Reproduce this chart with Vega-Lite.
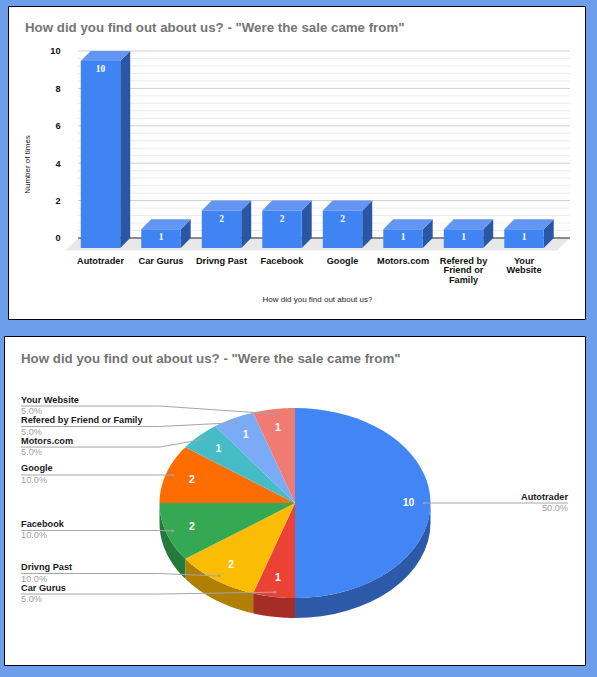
{
  "$schema": "https://vega.github.io/schema/vega-lite/v6.json",
  "background": "#6d9eeb",
  "padding": {"left": 3, "top": 5, "right": 12, "bottom": 12},
  "datasets": {
    "sources": [
      {"source": "Autotrader", "wrapped": "Autotrader", "times": 10},
      {"source": "Car Gurus", "wrapped": "Car Gurus", "times": 1},
      {"source": "Drivng Past", "wrapped": "Drivng Past", "times": 2},
      {"source": "Facebook", "wrapped": "Facebook", "times": 2},
      {"source": "Google", "wrapped": "Google", "times": 2},
      {"source": "Motors.com", "wrapped": "Motors.com", "times": 1},
      {"source": "Refered by Friend or Family", "wrapped": "Refered by\nFriend or\nFamily", "times": 1},
      {"source": "Your Website", "wrapped": "Your\nWebsite", "times": 1}
    ]
  },
  "config": {"font": "Liberation Sans"},
  "spacing": 15,
  "vconcat": [
    {
      "spacing": 0,
      "hconcat": [
        {"width": 3, "height": 313, "view": {"stroke": null}, "data": {"values": []}, "mark": "rule", "encoding": {}},
        {
          "width": 577,
          "height": 313,
          "view": {"fill": "#ffffff", "stroke": "#000000", "strokeWidth": 1},
          "title": {"text": "How did you find out about us? - \"Were the sale came from\"", "anchor": "start", "frame": "group", "offset": -28, "dx": 17, "font": "Liberation Sans", "fontSize": 13.3, "fontWeight": "bold", "color": "#757575"},
          "data": {"name": "sources"},
          "transform": [
            {"window": [{"op": "row_number", "as": "rank"}], "ignorePeers": true},
            {"calculate": "datum.rank - 1", "as": "slot"},
            {"calculate": "datum.slot - 0.326", "as": "left"},
            {"calculate": "datum.slot + 0.326", "as": "right"},
            {"calculate": "datum.times - 0.535", "as": "front_top"}
          ],
          "layer": [
            {
              "data": {"values": [{}]},
              "transform": [
                {"calculate": "[0, 1, 2, 3]", "as": "k"},
                {"flatten": ["k"]},
                {"calculate": "[-0.577, -0.372, 7.545, 7.76][datum.k]", "as": "fx"},
                {"calculate": "[-0.668, 0, 0, 0][datum.k]", "as": "fy"},
                {"calculate": "[-0.668, -0.668, -0.668, 0][datum.k]", "as": "fy2"}
              ],
              "mark": {"type": "area", "orient": "vertical", "color": "#e8e8e8"},
              "encoding": {
                "x": {"field": "fx", "type": "quantitative", "scale": {"domain": [-1.529, 8.008], "nice": false, "zero": false}, "axis": {"title": "How did you find out about us?", "labels": false, "ticks": false, "domain": false, "grid": false, "titleX": 309, "titleY": -24, "titleFontSize": 8, "titleFontWeight": "normal", "titleColor": "#222222"}},
                "y": {"field": "fy", "type": "quantitative", "scale": {"domain": [-4.332, 12.406], "nice": false, "zero": false}, "axis": {"values": [0, 2, 4, 6, 8, 10], "title": "Number of times", "domain": false, "ticks": false, "grid": false, "offset": -52, "labelPadding": 0, "labelFontSize": 9.2, "labelFontWeight": "bold", "labelColor": "#111111", "titleX": -29, "titleY": 158, "titleFontSize": 8, "titleFontWeight": "normal", "titleColor": "#222222"}},
                "y2": {"field": "fy2"}
              }
            },
            {
              "data": {"values": [{"tick": 0}, {"tick": 0.4}, {"tick": 0.8}, {"tick": 1.2}, {"tick": 1.6}, {"tick": 2}, {"tick": 2.4}, {"tick": 2.8}, {"tick": 3.2}, {"tick": 3.6}, {"tick": 4}, {"tick": 4.4}, {"tick": 4.8}, {"tick": 5.2}, {"tick": 5.6}, {"tick": 6}, {"tick": 6.4}, {"tick": 6.8}, {"tick": 7.2}, {"tick": 7.6}, {"tick": 8}, {"tick": 8.4}, {"tick": 8.8}, {"tick": 9.2}, {"tick": 9.6}, {"tick": 10}]},
              "mark": {"type": "rule", "strokeWidth": 1},
              "encoding": {
                "x": {"datum": -0.372, "type": "quantitative"},
                "x2": {"datum": 7.76},
                "y": {"field": "tick", "type": "quantitative"},
                "color": {"condition": [{"test": "datum.tick === 0", "value": "#222222"}, {"test": "datum.tick % 2 === 0", "value": "#cfcfcf"}], "value": "#ececec"}
              }
            },
            {
              "transform": [
                {"calculate": "[0, 1]", "as": "k"},
                {"flatten": ["k"]},
                {"calculate": "datum.right + datum.k * 0.165", "as": "sx"},
                {"calculate": "datum.front_top + datum.k * 0.535", "as": "sy"},
                {"calculate": "-0.535 + datum.k * 0.535", "as": "sy2"}
              ],
              "mark": {"type": "area", "orient": "vertical", "color": "#2a57a5"},
              "encoding": {
                "x": {"field": "sx", "type": "quantitative"},
                "y": {"field": "sy", "type": "quantitative"},
                "y2": {"field": "sy2"},
                "detail": {"field": "source"}
              }
            },
            {
              "transform": [
                {"calculate": "[0, 1, 2, 3]", "as": "k"},
                {"flatten": ["k"]},
                {"calculate": "[datum.left, datum.left + 0.165, datum.right, datum.right + 0.165][datum.k]", "as": "tx"},
                {"calculate": "[datum.front_top, datum.times, datum.times, datum.times][datum.k]", "as": "ty"},
                {"calculate": "[datum.front_top, datum.front_top, datum.front_top, datum.times][datum.k]", "as": "ty2"}
              ],
              "mark": {"type": "area", "orient": "vertical", "color": "#6296f2"},
              "encoding": {
                "x": {"field": "tx", "type": "quantitative"},
                "y": {"field": "ty", "type": "quantitative"},
                "y2": {"field": "ty2"},
                "detail": {"field": "source"}
              }
            },
            {
              "transform": [{"calculate": "-0.535", "as": "base"}],
              "mark": {"type": "rect", "color": "#4083f3"},
              "encoding": {
                "x": {"field": "left", "type": "quantitative"},
                "x2": {"field": "right"},
                "y": {"field": "front_top", "type": "quantitative"},
                "y2": {"field": "base"}
              }
            },
            {
              "transform": [{"calculate": "datum.front_top - 0.43", "as": "label_y"}],
              "mark": {"type": "text", "font": "Liberation Serif", "fontWeight": "bold", "fontSize": 9.5, "color": "#ffffff"},
              "encoding": {
                "x": {"field": "slot", "type": "quantitative"},
                "y": {"field": "label_y", "type": "quantitative"},
                "text": {"field": "times"}
              }
            },
            {
              "transform": [{"calculate": "-1", "as": "label_y"}],
              "mark": {"type": "text", "baseline": "top", "lineBreak": "\n", "lineHeight": 9.5, "fontWeight": "bold", "fontSize": 9.2, "color": "#111111"},
              "encoding": {
                "x": {"field": "slot", "type": "quantitative"},
                "y": {"field": "label_y", "type": "quantitative"},
                "text": {"field": "wrapped"}
              }
            }
          ]
        }
      ]
    },
    {
      "width": 581,
      "height": 329,
      "view": {"fill": "#ffffff", "stroke": "#000000", "strokeWidth": 1},
      "title": {"text": "How did you find out about us? - \"Were the sale came from\"", "anchor": "start", "frame": "group", "offset": -29, "dx": 17, "font": "Liberation Sans", "fontSize": 13.3, "fontWeight": "bold", "color": "#757575"},
      "data": {"name": "sources"},
      "transform": [
        {"window": [{"op": "sum", "field": "times", "as": "cum"}], "ignorePeers": true},
        {"joinaggregate": [{"op": "sum", "field": "times", "as": "total"}]},
        {"calculate": "(datum.cum - datum.times) / datum.total", "as": "start"},
        {"calculate": "datum.cum / datum.total", "as": "end"},
        {"calculate": "(datum.start + datum.end) / 2", "as": "mid"},
        {"calculate": "0.95 * sin(2 * PI * datum.mid)", "as": "dot_x"},
        {"calculate": "0.95 * cos(2 * PI * datum.mid)", "as": "dot_y"},
        {"calculate": "{'Your Website': 1.021, 'Refered by Friend or Family': 0.805, 'Motors.com': 0.589, 'Google': 0.295, 'Facebook': -0.289, 'Drivng Past': -0.742, 'Car Gurus': -0.958, 'Autotrader': 0}[datum.source]", "as": "line_y"},
        {"calculate": "datum.mid < 0.5 ? 2.015 : -2.022", "as": "line_x"},
        {"calculate": "format(datum.times / datum.total, '.1%')", "as": "share"}
      ],
      "layer": [
        {
          "transform": [
            {"filter": "datum.end > 0.25 && datum.start < 0.75"},
            {"calculate": "max(datum.start, 0.25)", "as": "w0"},
            {"calculate": "min(datum.end, 0.75)", "as": "w1"},
            {"calculate": "[0,1,2,3,4,5,6,7,8,9,10,11,12,13,14,15,16,17,18,19,20,21,22,23,24,25,26,27,28,29,30,31,32,33]", "as": "k"},
            {"flatten": ["k"]},
            {"calculate": "datum.w0 + (datum.w1 - datum.w0) * (datum.k <= 16 ? datum.k : 33 - datum.k) / 16", "as": "f"},
            {"calculate": "sin(2 * PI * datum.f)", "as": "px"},
            {"calculate": "cos(2 * PI * datum.f) - (datum.k > 16 ? 0.2105 : 0)", "as": "py"}
          ],
          "mark": {"type": "line", "strokeWidth": 0},
          "encoding": {
            "x": {"field": "px", "type": "quantitative", "scale": {"domain": [-2.1476, 2.1402], "nice": false, "zero": false}, "axis": null},
            "y": {"field": "py", "type": "quantitative", "scale": {"domain": [-1.705, 1.758], "nice": false, "zero": false}, "axis": null},
            "order": {"field": "k", "type": "quantitative"},
            "detail": {"field": "source"},
            "fill": {"field": "source", "type": "nominal", "legend": null, "scale": {"domain": ["Autotrader", "Car Gurus", "Drivng Past", "Facebook"], "range": ["#2c5aa8", "#a52d25", "#b07f03", "#24793d"]}}
          }
        },
        {
          "transform": [
            {"calculate": "[-1,0,1,2,3,4,5,6,7,8,9,10,11,12,13,14,15,16,17,18,19,20,21,22,23,24,25,26,27,28,29,30,31,32,33,34,35,36,37,38,39,40]", "as": "k"},
            {"flatten": ["k"]},
            {"calculate": "datum.start + (datum.end - datum.start) * datum.k / 40", "as": "f"},
            {"calculate": "datum.k < 0 ? 0 : sin(2 * PI * datum.f)", "as": "px"},
            {"calculate": "datum.k < 0 ? 0 : cos(2 * PI * datum.f)", "as": "py"}
          ],
          "mark": {"type": "line", "strokeWidth": 0},
          "encoding": {
            "x": {"field": "px", "type": "quantitative", "axis": null},
            "y": {"field": "py", "type": "quantitative", "axis": null},
            "order": {"field": "k", "type": "quantitative"},
            "detail": {"field": "source"},
            "fill": {"field": "source", "type": "nominal", "legend": null, "scale": {"domain": ["Autotrader", "Car Gurus", "Drivng Past", "Facebook", "Google", "Motors.com", "Refered by Friend or Family", "Your Website"], "range": ["#4285f4", "#ea4335", "#fbbc04", "#34a853", "#ff6d01", "#46bdc6", "#7baaf7", "#f07b72"]}}
          }
        },
        {
          "transform": [
            {"calculate": "[0, 1, 2]", "as": "k"},
            {"flatten": ["k"]},
            {"calculate": "[datum.line_x, datum.mid < 0.5 ? 1 : -1, datum.dot_x][datum.k]", "as": "lx"},
            {"calculate": "[datum.line_y, datum.line_y, datum.dot_y][datum.k]", "as": "ly"}
          ],
          "mark": {"type": "line", "strokeWidth": 1, "color": "#a6a6a6"},
          "encoding": {
            "x": {"field": "lx", "type": "quantitative", "axis": null},
            "y": {"field": "ly", "type": "quantitative", "axis": null},
            "order": {"field": "k", "type": "quantitative"},
            "detail": {"field": "source"}
          }
        },
        {
          "mark": {"type": "point", "filled": true, "size": 7, "color": "#9e9e9e", "opacity": 1},
          "encoding": {
            "x": {"field": "dot_x", "type": "quantitative", "axis": null},
            "y": {"field": "dot_y", "type": "quantitative", "axis": null}
          }
        },
        {
          "transform": [
            {"calculate": "datum.times === 10 ? 0.838 : 0.8", "as": "r"},
            {"calculate": "datum.r * sin(2 * PI * datum.mid)", "as": "nx"},
            {"calculate": "datum.r * cos(2 * PI * datum.mid)", "as": "ny"}
          ],
          "mark": {"type": "text", "fontWeight": "bold", "fontSize": 10.5, "color": "#ffffff"},
          "encoding": {
            "x": {"field": "nx", "type": "quantitative", "axis": null},
            "y": {"field": "ny", "type": "quantitative", "axis": null},
            "text": {"field": "times"}
          }
        },
        {
          "transform": [{"filter": "datum.mid >= 0.5"}],
          "mark": {"type": "text", "align": "left", "dy": -6.5, "fontWeight": "bold", "fontSize": 9.2, "color": "#1a1a1a"},
          "encoding": {
            "x": {"field": "line_x", "type": "quantitative", "axis": null},
            "y": {"field": "line_y", "type": "quantitative", "axis": null},
            "text": {"field": "source"}
          }
        },
        {
          "transform": [{"filter": "datum.mid >= 0.5"}],
          "mark": {"type": "text", "align": "left", "dy": 5, "fontSize": 9.2, "color": "#a0a0a0"},
          "encoding": {
            "x": {"field": "line_x", "type": "quantitative", "axis": null},
            "y": {"field": "line_y", "type": "quantitative", "axis": null},
            "text": {"field": "share"}
          }
        },
        {
          "transform": [{"filter": "datum.mid < 0.5"}],
          "mark": {"type": "text", "align": "right", "dy": -6.5, "fontWeight": "bold", "fontSize": 9.2, "color": "#1a1a1a"},
          "encoding": {
            "x": {"field": "line_x", "type": "quantitative", "axis": null},
            "y": {"field": "line_y", "type": "quantitative", "axis": null},
            "text": {"field": "source"}
          }
        },
        {
          "transform": [{"filter": "datum.mid < 0.5"}],
          "mark": {"type": "text", "align": "right", "dy": 5, "fontSize": 9.2, "color": "#a0a0a0"},
          "encoding": {
            "x": {"field": "line_x", "type": "quantitative", "axis": null},
            "y": {"field": "line_y", "type": "quantitative", "axis": null},
            "text": {"field": "share"}
          }
        }
      ],
      "resolve": {"scale": {"fill": "independent"}}
    }
  ]
}
